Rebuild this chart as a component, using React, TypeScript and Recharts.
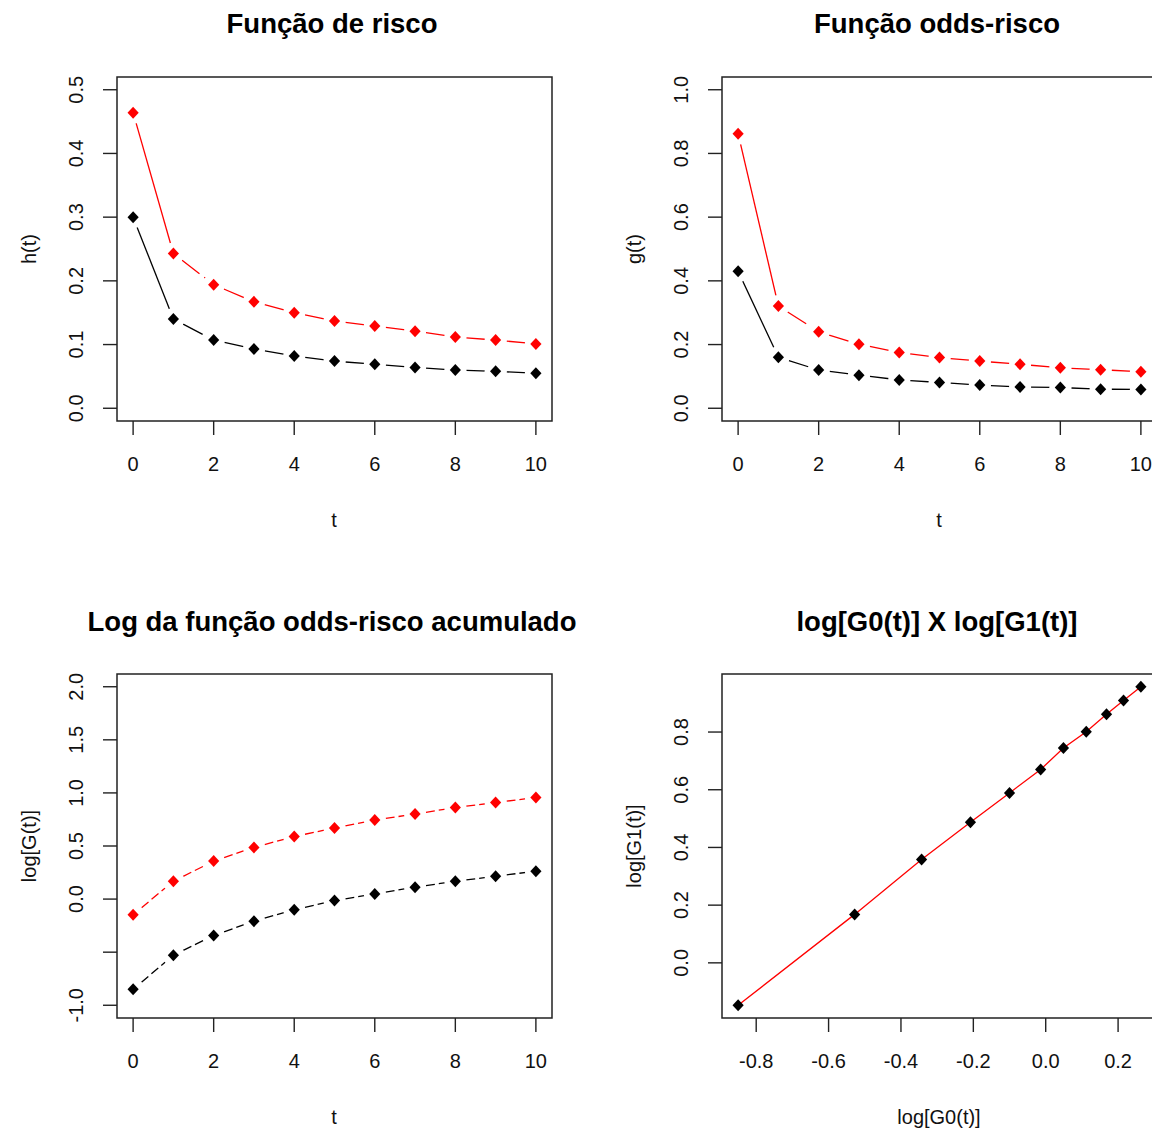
import React from "react"
import { ComposedChart, Line, Scatter, XAxis, YAxis, ReferenceArea } from "recharts"

// tempos observados
const tempos = [0, 1, 2, 3, 4, 5, 6, 7, 8, 9, 10]

// função de risco h(t): grupo 0 (preto) e grupo 1 (vermelho)
const risco0 = [0.300, 0.140, 0.107, 0.093, 0.082, 0.074, 0.069, 0.064, 0.060, 0.058, 0.055]
const risco1 = [0.464, 0.243, 0.194, 0.167, 0.150, 0.137, 0.129, 0.121, 0.112, 0.107, 0.101]

// função odds-risco g(t)
const odds0 = [0.430, 0.160, 0.120, 0.104, 0.089, 0.081, 0.073, 0.067, 0.065, 0.060, 0.059]
const odds1 = [0.862, 0.321, 0.240, 0.201, 0.175, 0.159, 0.148, 0.138, 0.127, 0.121, 0.115]

// log da função odds-risco acumulada
const logG0 = [-0.850, -0.528, -0.343, -0.208, -0.100, -0.014, 0.049, 0.112, 0.168, 0.215, 0.263]
const logG1 = [-0.147, 0.168, 0.358, 0.487, 0.589, 0.670, 0.745, 0.801, 0.862, 0.909, 0.957]

const ticksT = [0, 2, 4, 6, 8, 10]
const ticksRisco = [0, 0.1, 0.2, 0.3, 0.4, 0.5]
const ticksOdds = [0, 0.2, 0.4, 0.6, 0.8, 1.0]
const ticksLog = [-1, -0.5, 0, 0.5, 1, 1.5, 2]
const ticksLogG0 = [-0.8, -0.6, -0.4, -0.2, 0, 0.2]
const ticksLogG1 = [0, 0.2, 0.4, 0.6, 0.8]

const titulos = ["Função de risco", "Função odds-risco", "Log da função odds-risco acumulado", "log[G0(t)] X log[G1(t)]"]
const rotulosX = ["t", "t", "t", "log[G0(t)]"]
const rotulosY = ["h(t)", "g(t)", "log[G(t)]", "log[G1(t)]"]

const FONTE = "'Liberation Sans', Arial, Helvetica, sans-serif"
const VERMELHO = "#ff0000"
const PRETO = "#000000"
const CAIXA = "#222222"

// geometria de cada painel (imita par(mfrow=c(2,2)) do R)
const W = 606
const H = 598
const ESQ = 117
const TOPO = 77
const LARG = 435
const ALT = 344
const ALT_EIXO_X = 60
const FOLGA = 11 // espaço em volta dos pontos (type = "b")

// faixa com 4% de folga, como o R faz
const faixa = (lo: number, hi: number): [number, number] => {
  const r = hi - lo
  return [lo - 0.04 * r, hi + 0.04 * r]
}

const nSeg = tempos.length - 1

// cada segmento vira uma série própria, para o tracejado recomeçar em cada ponto
const montar = (s0: number[], s1: number[]) =>
  tempos.map((t, i) => {
    const linha: any = { t, a: s0[i], b: s1[i] }
    for (let k = 0; k < nSeg; k++) {
      const dentro = i === k || i === k + 1
      linha[`a${k}`] = dentro ? s0[i] : null
      linha[`b${k}`] = dentro ? s1[i] : null
    }
    return linha
  })

const tabRisco = montar(risco0, risco1)
const tabOdds = montar(odds0, odds1)
const tabLog = montar(logG0, logG1)
const tabPontos = logG0.map((x, i) => ({ x, y: logG1[i] }))

const fmt1 = (v: number) => v.toFixed(1)
const fmtInt = (v: number) => String(v)
const fmtLog = (v: number) => (v === -0.5 ? "" : v.toFixed(1))

function TickX(props: any) {
  const { x, y, payload, fmt } = props
  return (
    <text x={x} y={y + 36} textAnchor="middle" fontSize={20} fontFamily={FONTE} fill="#111">
      {fmt(payload.value)}
    </text>
  )
}

function TickY(props: any) {
  const { x, y, payload, fmt } = props
  const bx = x - 20
  return (
    <text
      x={bx}
      y={y}
      transform={`rotate(-90 ${bx} ${y})`}
      textAnchor="middle"
      fontSize={20}
      fontFamily={FONTE}
      fill="#111"
    >
      {fmt(payload.value)}
    </text>
  )
}

function Losango(props: any) {
  const { cx, cy, cor, halo } = props
  if (cx == null || cy == null || props.value == null) return <g />
  return (
    <g>
      {halo && <circle cx={cx} cy={cy} r={FOLGA} fill="#fff" />}
      <polygon
        points={`${cx},${cy - 6} ${cx + 5.6},${cy} ${cx},${cy + 6} ${cx - 5.6},${cy}`}
        fill={cor}
      />
    </g>
  )
}

function eixos(xDom: [number, number], yDom: [number, number], xTicks: number[], yTicks: number[], xFmt: any, yFmt: any, xKey: string) {
  return [
    <XAxis
      key="x"
      type="number"
      dataKey={xKey}
      domain={xDom}
      ticks={xTicks}
      allowDataOverflow
      interval={0}
      axisLine={false}
      tickLine={{ stroke: CAIXA, strokeWidth: 1.4 }}
      tickSize={14}
      tickMargin={0}
      height={ALT_EIXO_X}
      tick={<TickX fmt={xFmt} />}
    />,
    <YAxis
      key="y"
      type="number"
      domain={yDom}
      ticks={yTicks}
      allowDataOverflow
      interval={0}
      axisLine={false}
      tickLine={{ stroke: CAIXA, strokeWidth: 1.4 }}
      tickSize={14}
      tickMargin={0}
      width={ESQ}
      tick={<TickY fmt={yFmt} />}
    />,
    <ReferenceArea
      key="caixa"
      x1={xDom[0]}
      x2={xDom[1]}
      y1={yDom[0]}
      y2={yDom[1]}
      fill="none"
      stroke={CAIXA}
      strokeWidth={1.5}
      ifOverflow="visible"
    />
  ]
}

const margem = { top: TOPO, right: W - ESQ - LARG, bottom: H - TOPO - ALT - ALT_EIXO_X, left: 0 }

function segmentos(prefixo: string, cor: string, on: number, off: number, primeiroSolido: boolean) {
  const periodo = on + off
  const deslocamento = (periodo - (FOLGA % periodo)) % periodo
  return Array.from({ length: nSeg }, (_, k) => {
    const solido = primeiroSolido && k === 0
    return (
      <Line
        key={`${prefixo}${k}`}
        dataKey={`${prefixo}${k}`}
        stroke={cor}
        strokeWidth={1.3}
        strokeDasharray={solido ? undefined : `${on} ${off}`}
        strokeDashoffset={solido ? undefined : deslocamento}
        dot={false}
        activeDot={false}
        isAnimationActive={false}
      />
    )
  })
}

function series(on: number, off: number, primeiroSolido: boolean) {
  return [
    ...segmentos("a", PRETO, on, off, primeiroSolido),
    ...segmentos("b", VERMELHO, on, off, primeiroSolido),
    <Line
      key="aP"
      dataKey="a"
      stroke="none"
      activeDot={false}
      isAnimationActive={false}
      dot={(p: any) => <Losango key={`a${p.index}`} {...p} cor={PRETO} halo />}
    />,
    <Line
      key="bP"
      dataKey="b"
      stroke="none"
      activeDot={false}
      isAnimationActive={false}
      dot={(p: any) => <Losango key={`b${p.index}`} {...p} cor={VERMELHO} halo />}
    />
  ]
}

const domT = faixa(0, 10)

export default function App() {
  const domG0 = faixa(Math.min(...logG0), Math.max(...logG0))
  const domG1 = faixa(Math.min(...logG1), Math.max(...logG1))
  const centroX = [332, 937]
  return (
    <div
      style={{
        position: "absolute",
        left: 0,
        top: 0,
        width: 1152,
        height: 1131,
        overflow: "hidden",
        background: "#fff"
      }}
    >
      <div style={{ position: "absolute", left: 0, top: 0 }}>
        <ComposedChart width={W} height={H} data={tabRisco} margin={margem}>
          {eixos(domT, faixa(0, 0.5), ticksT, ticksRisco, fmtInt, fmt1, "t")}
          {series(22, 6, true)}
        </ComposedChart>
      </div>
      <div style={{ position: "absolute", left: 605, top: 0 }}>
        <ComposedChart width={W} height={H} data={tabOdds} margin={margem}>
          {eixos(domT, faixa(0, 1), ticksT, ticksOdds, fmtInt, fmt1, "t")}
          {series(22, 6, true)}
        </ComposedChart>
      </div>
      <div style={{ position: "absolute", left: 0, top: 597 }}>
        <ComposedChart width={W} height={H} data={tabLog} margin={margem}>
          {eixos(domT, faixa(-1, 2), ticksT, ticksLog, fmtInt, fmtLog, "t")}
          {series(9, 4, false)}
        </ComposedChart>
      </div>
      <div style={{ position: "absolute", left: 605, top: 597 }}>
        <ComposedChart width={W} height={H} data={tabPontos} margin={margem}>
          {eixos(domG0, domG1, ticksLogG0, ticksLogG1, fmt1, fmt1, "x")}
          <Scatter
            dataKey="y"
            data={tabPontos}
            isAnimationActive={false}
            shape={(p: any) => <Losango {...p} value={p.y} cor={PRETO} />}
          />
          <Line dataKey="y" stroke={VERMELHO} strokeWidth={1.3} dot={false} activeDot={false} isAnimationActive={false} />
        </ComposedChart>
      </div>
      <svg
        width={1152}
        height={1131}
        style={{ position: "absolute", left: 0, top: 0, pointerEvents: "none" }}
        fontFamily={FONTE}
      >
        {titulos.map((tt, i) => (
          <text
            key={tt}
            x={centroX[i % 2]}
            y={i < 2 ? 33 : 631}
            textAnchor="middle"
            fontSize={27.5}
            fontWeight="bold"
            fill="#000"
          >
            {tt}
          </text>
        ))}
        {rotulosX.map((r, i) => (
          <text key={`x${i}`} x={centroX[i % 2] + 2} y={i < 2 ? 527 : 1124} textAnchor="middle" fontSize={20} fill="#111">
            {r}
          </text>
        ))}
        {rotulosY.map((r, i) => {
          const bx = i % 2 === 0 ? 36 : 641
          const cy = i < 2 ? TOPO + ALT / 2 : 597 + TOPO + ALT / 2
          return (
            <text
              key={`y${i}`}
              x={bx}
              y={cy}
              transform={`rotate(-90 ${bx} ${cy})`}
              textAnchor="middle"
              fontSize={20}
              fill="#111"
            >
              {r}
            </text>
          )
        })}
      </svg>
    </div>
  )
}
